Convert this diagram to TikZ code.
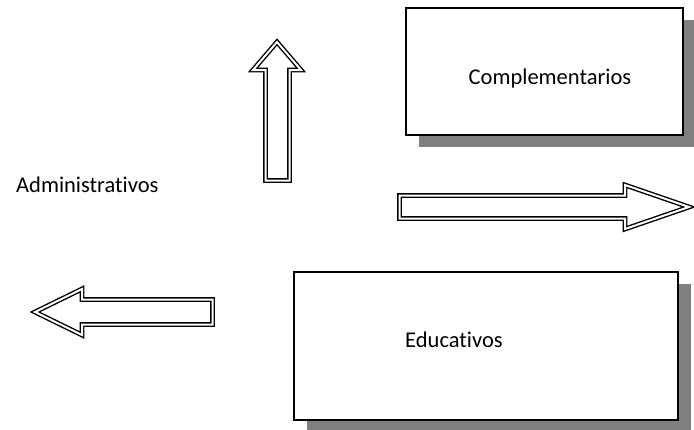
\documentclass[tikz,border=0pt]{standalone}
\usepackage{fontspec}
\setmainfont{Carlito}[Ligatures=NoCommon]
\usetikzlibrary{
    shadows,
    calc,
    positioning
}

\begin{document}
\begin{tikzpicture}[x=1pt, y=-1pt,
        box/.style={draw, line width=1.6pt, fill=white, inner sep=0pt,
            drop shadow={shadow xshift=13pt, shadow yshift=-12pt, fill=black!50, opacity=1}},
        blockarrow/.style={draw, line width=1.4pt, double=white, double distance=2pt, line join=miter},
        lbl/.style={font=\fontsize{22.5}{27}\selectfont, inner sep=0pt}]
                        \useasboundingbox (0, 0) rectangle (694, 429);
                        \node[box, minimum width=277.5pt, minimum height=127.5pt] (complembox) at (544.5, 71.5) {};
                        \node[box, minimum width=384.5pt, minimum height=148.5pt] (educbox) at (486, 346) {};
                        \node[lbl] (complem) at (550, 78) {Complementarios};
                        \node[lbl] (educ) at (454, 340) {Educativos};
                        \node[lbl, anchor=west] (admin) at (16, 185) {Administrativos};
                        \draw[blockarrow]
                        (265.5, 180.5) -- (265.5, 70) -- (253, 70) -- (277, 42) -- (301, 70) -- (289.5, 70) -- (289.5, 180.5) -- cycle;
                        \draw[blockarrow]
                        (399.5, 195.5) -- (625, 195.5) -- (625, 185) -- (689, 207) -- (625, 229) -- (625, 218.5) -- (399.5, 218.5) -- cycle;
                        \draw[blockarrow]
                        (212.5, 299.5) -- (82, 299.5) -- (82, 289) -- (35, 312) -- (82, 335) -- (82, 324.5) -- (212.5, 324.5) -- cycle;
                    \end{tikzpicture}
\end{document}
